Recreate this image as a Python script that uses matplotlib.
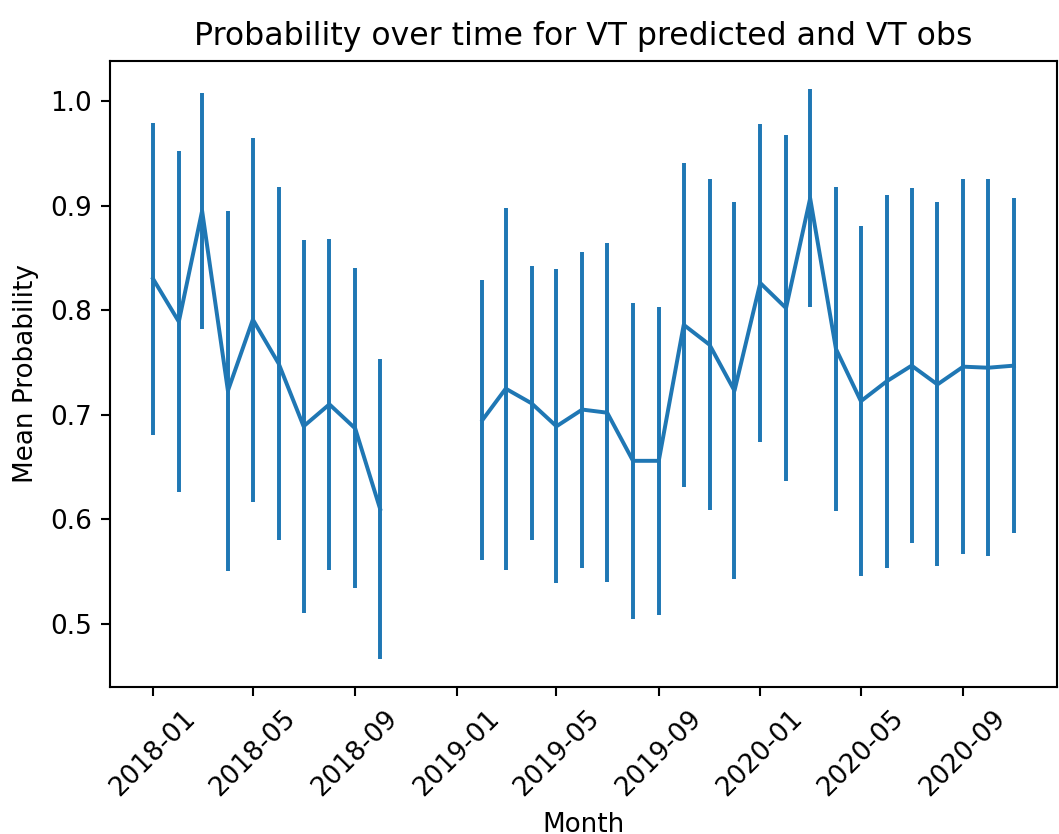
import matplotlib
matplotlib.use('Agg')
import matplotlib.pyplot as plt
import numpy as np
import pandas as pd

# monthly mean probability and error (NaN = no data that month)
months = pd.date_range('2018-01-01', '2020-11-01', freq='MS')
mean_prob = [0.830, 0.789, 0.895, 0.723, 0.791, 0.749, 0.689, 0.710, 0.687, 0.610,
             np.nan, np.nan, np.nan,
             0.695, 0.725, 0.711, 0.689, 0.705, 0.702, 0.656, 0.656, 0.786, 0.767,
             0.723, 0.826, 0.802, 0.907, 0.763, 0.713, 0.732, 0.747, 0.729, 0.746,
             0.745, 0.747]
err_prob = [0.149, 0.163, 0.113, 0.172, 0.174, 0.169, 0.178, 0.158, 0.153, 0.143,
            np.nan, np.nan, np.nan,
            0.134, 0.173, 0.131, 0.150, 0.151, 0.162, 0.151, 0.147, 0.155, 0.158,
            0.180, 0.152, 0.165, 0.104, 0.155, 0.167, 0.178, 0.170, 0.174, 0.179,
            0.180, 0.160]

dpi = 189
fig = plt.figure(figsize=(1059 / dpi, 834 / dpi), dpi=dpi)
ax = fig.add_axes([110 / 1059, 147 / 834, 947 / 1059, 626 / 834])

ax.errorbar(months, mean_prob, yerr=err_prob)
ax.set_title('Probability over time for VT predicted and VT obs')
ax.set_xlabel('Month')
ax.set_ylabel('Mean Probability')
plt.setp(ax.get_xticklabels(), rotation=45)

fig.savefig('out.png', dpi=dpi)
